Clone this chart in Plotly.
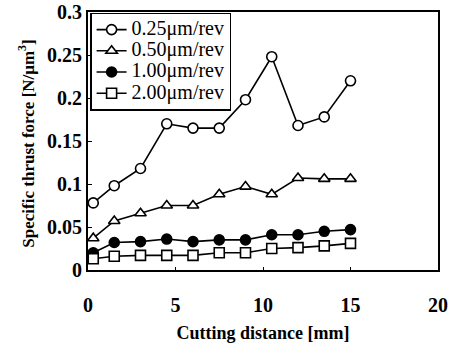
import plotly.graph_objects as go

distance = [0.3, 1.5, 3.0, 4.5, 6.0, 7.5, 9.0, 10.5, 12.0, 13.5, 15.0]
f025 = [0.078, 0.098, 0.118, 0.170, 0.165, 0.165, 0.198, 0.248, 0.168, 0.178, 0.220]
f050 = [0.037, 0.057, 0.066, 0.075, 0.075, 0.088, 0.097, 0.088, 0.107, 0.106, 0.106]
f100 = [0.020, 0.032, 0.033, 0.036, 0.033, 0.035, 0.035, 0.041, 0.041, 0.045, 0.047]
f200 = [0.013, 0.016, 0.017, 0.017, 0.017, 0.020, 0.020, 0.025, 0.026, 0.028, 0.031]
names = ["0.25μm/rev", "0.50μm/rev", "1.00μm/rev", "2.00μm/rev"]
symbols = ["circle", "triangle-up", "circle", "square"]
filled = [False, False, True, False]
y_title = "<b>Specific thrust force [N/μm<sup>3</sup>]</b>"
x_title = "<b>Cutting distance [mm]</b>"

FONT = "Liberation Serif"
fig = go.Figure()
for ys, nm, sym, fl in zip([f025, f050, f100, f200], names, symbols, filled):
    fig.add_trace(go.Scatter(
        x=distance, y=ys, mode="lines+markers",
        name='<span style="font-size:20px">' + nm + '</span>',
        line=dict(color="black", width=1.6),
        marker=dict(symbol=sym, size=10,
                    color="black" if fl else "white",
                    line=dict(color="black", width=1.6)),
    ))

fig.update_layout(
    width=455, height=343,
    margin=dict(l=88, r=17, t=12, b=73, autoexpand=False),
    paper_bgcolor="white", plot_bgcolor="white",
    font=dict(family=FONT, size=16, color="black"),
    showlegend=True,
    legend=dict(x=0.006, y=0.998, xanchor="left", yanchor="top",
                bgcolor="white", bordercolor="black", borderwidth=1.5,
                font=dict(family=FONT, size=14), tracegroupgap=0,
                itemwidth=30),
    annotations=[dict(text=y_title, xref="paper", yref="paper", x=-0.177, y=0.49,
                      xanchor="center", yanchor="middle", textangle=-90, showarrow=False,
                      font=dict(family=FONT, size=17))],
)
fig.update_xaxes(range=[0, 20], tickvals=[0, 5, 10, 15, 20], showgrid=False, zeroline=False,
                 automargin=False,
                 showline=True, linecolor="black", linewidth=2, mirror=True,
                 ticks="inside", ticklen=3, tickcolor="black",
                 ticklabelstandoff=16,
                 tickfont=dict(family=FONT, size=20, weight="bold"),
                 title=dict(text=x_title, font=dict(family=FONT, size=18), standoff=11))
fig.update_yaxes(range=[0, 0.3], tickvals=[0, 0.05, 0.1, 0.15, 0.2, 0.25, 0.3],
                 ticktext=["0", "0.05", "0.1", "0.15", "0.2", "0.25", "0.3"],
                 automargin=False,
                 showgrid=False, zeroline=False,
                 showline=True, linecolor="black", linewidth=2, mirror=True,
                 ticks="inside", ticklen=4, tickcolor="black",
                 tickfont=dict(family=FONT, size=20, weight="bold"))

fig.write_html("out.html")
